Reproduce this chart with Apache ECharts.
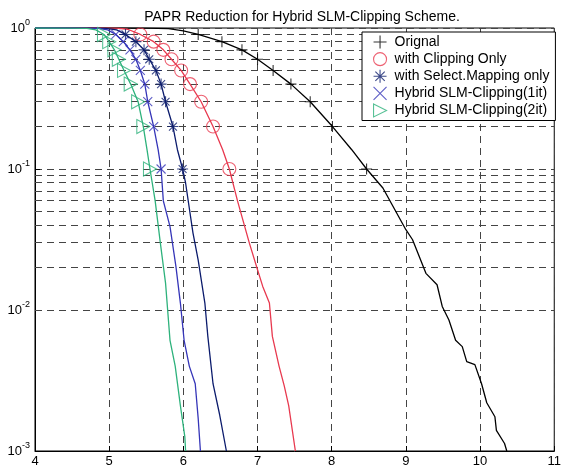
<!DOCTYPE html>
<html>
<head>
<meta charset="utf-8">
<script src="https://cdn.jsdelivr.net/npm/echarts@6/dist/echarts.min.js"></script>
<style>
html,body{margin:0;padding:0;background:#fff;}
#chart{width:564px;height:472px;}
</style>
</head>
<body>
<div id="chart"></div>
<script>
// ---- data ----
const titleText = 'PAPR Reduction for Hybrid SLM-Clipping Scheme.';
const seriesNames = ['Orignal', 'with Clipping Only', 'with Select.Mapping only', 'Hybrid SLM-Clipping(1it)', 'Hybrid SLM-Clipping(2it)'];
const xTicks = [4, 5, 6, 7, 8, 9, 10, 11];
const yDecades = [0.001, 0.01, 0.1, 1];
const minorMultipliers = [2, 3, 4, 5, 6, 7, 8, 9];
const markerLevels = [0.9, 0.8, 0.7, 0.6, 0.5, 0.4, 0.3, 0.2, 0.1];

// marker x positions at the CCDF levels above
const origMarkX  = [6.20, 6.52, 6.79, 7.00, 7.21, 7.45, 7.71, 8.01, 8.47];
const clipMarkX  = [5.42, 5.60, 5.73, 5.84, 5.97, 6.09, 6.24, 6.40, 6.62];
const slmMarkX   = [5.22, 5.36, 5.47, 5.54, 5.63, 5.70, 5.76, 5.86, 5.99];
const hyb1MarkX  = [5.09, 5.19, 5.28, 5.36, 5.42, 5.48, 5.52, 5.60, 5.70];
const hyb2MarkX  = [4.93, 5.00, 5.07, 5.13, 5.20, 5.29, 5.39, 5.46, 5.55];

// curves [x, CCDF]
const origLine = [[4.0,1],[5.0,0.9999],[5.5,0.998],[5.8,0.99],[6.0,0.955],[6.2,0.9],[6.52,0.8],[6.79,0.7],[7.0,0.6],[7.21,0.5],[7.45,0.4],[7.71,0.3],[8.01,0.2],[8.27,0.137],[8.47,0.1],[8.69,0.0733],[9.0,0.0371],[9.09,0.0315],[9.27,0.0182],[9.42,0.0151],[9.49,0.0106],[9.58,0.0085],[9.67,0.0061],[9.76,0.0055],[9.82,0.0043],[9.93,0.0041],[10.02,0.0030],[10.09,0.0022],[10.2,0.00175],[10.22,0.0014],[10.33,0.00113],[10.36,0.001]];
const clipLine = [[4.0,1],[4.8,0.9998],[5.1,0.997],[5.25,0.98],[5.42,0.9],[5.6,0.8],[5.73,0.7],[5.84,0.6],[5.97,0.5],[6.09,0.4],[6.24,0.3],[6.4,0.2],[6.53,0.137],[6.62,0.1],[6.73,0.0594],[6.89,0.0298],[7.0,0.0193],[7.07,0.0147],[7.16,0.0112],[7.2,0.0065],[7.29,0.004],[7.36,0.0029],[7.42,0.0021],[7.51,0.001]];
const slmLine  = [[4.0,1],[4.7,0.9995],[4.95,0.995],[5.1,0.97],[5.22,0.9],[5.36,0.8],[5.47,0.7],[5.54,0.6],[5.63,0.5],[5.70,0.4],[5.76,0.3],[5.86,0.2],[5.92,0.137],[5.99,0.1],[6.03,0.0796],[6.13,0.0351],[6.2,0.0226],[6.29,0.0112],[6.33,0.0065],[6.4,0.003],[6.49,0.0018],[6.58,0.001]];
const hyb1Line = [[4.0,1],[4.6,0.9995],[4.85,0.993],[4.98,0.97],[5.09,0.9],[5.19,0.8],[5.28,0.7],[5.36,0.6],[5.42,0.5],[5.48,0.4],[5.52,0.3],[5.6,0.2],[5.66,0.137],[5.70,0.1],[5.73,0.0594],[5.82,0.039],[5.9,0.0203],[5.96,0.0112],[6.01,0.0061],[6.08,0.004],[6.16,0.003],[6.2,0.0017],[6.23,0.001]];
const hyb2Line = [[4.0,1],[4.5,0.9995],[4.7,0.995],[4.82,0.97],[4.93,0.9],[5.0,0.8],[5.07,0.7],[5.13,0.6],[5.2,0.5],[5.29,0.4],[5.39,0.3],[5.46,0.2],[5.51,0.137],[5.55,0.1],[5.62,0.0594],[5.69,0.0298],[5.76,0.0155],[5.82,0.0061],[5.89,0.004],[5.96,0.0021],[6.02,0.00126],[6.03,0.001]];

// ---- styling ----
const colors = ['#000000', '#e8394f', '#0b1b6c', '#3535b8', '#2eb27c'];
const symbols = [
  'path://M0,-1L0,1M-1,0L1,0',
  'circle',
  'path://M0,-1L0,1M-1,0L1,0M-0.72,-0.72L0.72,0.72M-0.72,0.72L0.72,-0.72',
  'path://M-1,-1L1,1M-1,1L1,-1',
  'path://M0,0L1,0.5L0,1Z'
];
const symbolSizes = [11, 13, 11, 9, [13, 14]];
const lines = [origLine, clipLine, slmLine, hyb1Line, hyb2Line];
const marks = [origMarkX, clipMarkX, slmMarkX, hyb1MarkX, hyb2MarkX];

const minorLevels = [];
yDecades.slice(0, -1).forEach(d => minorMultipliers.forEach(m => minorLevels.push(d * m)));

const gridDash = { type: [7, 5], color: '#444', width: 1 };
const font = 'Liberation Sans';

const series = [];
series.push({
  type: 'line', name: '_grid', data: [], silent: true, z: 1, zlevel: 0,
  markLine: {
    silent: true, symbol: ['none', 'none'], label: { show: false },
    lineStyle: gridDash, animation: false, z: 1,
    data: minorLevels.map(v => ({ yAxis: v }))
  }
});
lines.forEach((ln, i) => {
  series.push({
    type: 'line', name: '_l' + i, data: ln, showSymbol: false, symbol: 'none',
    lineStyle: { color: colors[i], width: 1.3 }, z: 3 + i, silent: true
  });
});
marks.forEach((mx, i) => {
  series.push({
    type: 'scatter', name: seriesNames[i],
    data: mx.map((x, k) => [x, markerLevels[k]]),
    symbol: symbols[i], symbolSize: symbolSizes[i], symbolKeepAspect: true,
    itemStyle: { color: 'rgba(0,0,0,0)', borderColor: colors[i], borderWidth: 1.1 },
    z: 10 + i
  });
});

const chart = echarts.init(document.getElementById('chart'), null, { renderer: 'canvas' });
chart.setOption({
  animation: false,
  backgroundColor: '#fff',
  title: {
    text: titleText, left: 297, top: 5, textAlign: 'center',
    textStyle: { fontFamily: font, fontSize: 14, fontWeight: 'normal', color: '#000' }
  },
  grid: { left: 35, right: 4, top: 28, bottom: 21, show: true, borderColor: '#000', borderWidth: 1, backgroundColor: '#fff' },
  legend: {
    orient: 'vertical', left: 362, top: 32, z: 50, zlevel: 1,
    padding: [3, 6, 3, 11], itemGap: 3, itemWidth: 13, itemHeight: 13,
    backgroundColor: '#fff', borderColor: '#000', borderWidth: 1,
    textStyle: { fontFamily: font, fontSize: 14, color: '#000', padding: [0, 0, 0, 3] },
    data: seriesNames.map((n, i) => ({
      name: n, icon: symbols[i],
      itemStyle: { color: 'rgba(0,0,0,0)', borderColor: colors[i], borderWidth: 1.1 }
    }))
  },
  xAxis: {
    type: 'value', min: xTicks[0], max: xTicks[xTicks.length - 1], interval: 1,
    axisLine: { show: true, lineStyle: { color: '#000' } },
    axisTick: { show: true, inside: true, length: 5, lineStyle: { color: '#000' } },
    axisLabel: { fontFamily: font, fontSize: 13, color: '#000', margin: 4, showMaxLabel: true, showMinLabel: true },
    splitLine: { show: true, lineStyle: gridDash }
  },
  yAxis: {
    type: 'log', logBase: 10, min: yDecades[0], max: yDecades[yDecades.length - 1],
    axisLine: { show: true, lineStyle: { color: '#000' } },
    axisTick: { show: true, inside: true, length: 5, lineStyle: { color: '#000' } },
    axisLabel: {
      margin: 5, color: '#000',
      formatter: v => '{b|10}{s|' + Math.round(Math.log10(v)) + '}',
      rich: {
        b: { fontFamily: font, fontSize: 13, lineHeight: 20, color: '#000' },
        s: { fontFamily: font, fontSize: 9, lineHeight: 9, verticalAlign: 'top', color: '#000' }
      }
    },
    splitLine: { show: true, lineStyle: gridDash }
  },
  series: series
});
</script>
</body>
</html>
